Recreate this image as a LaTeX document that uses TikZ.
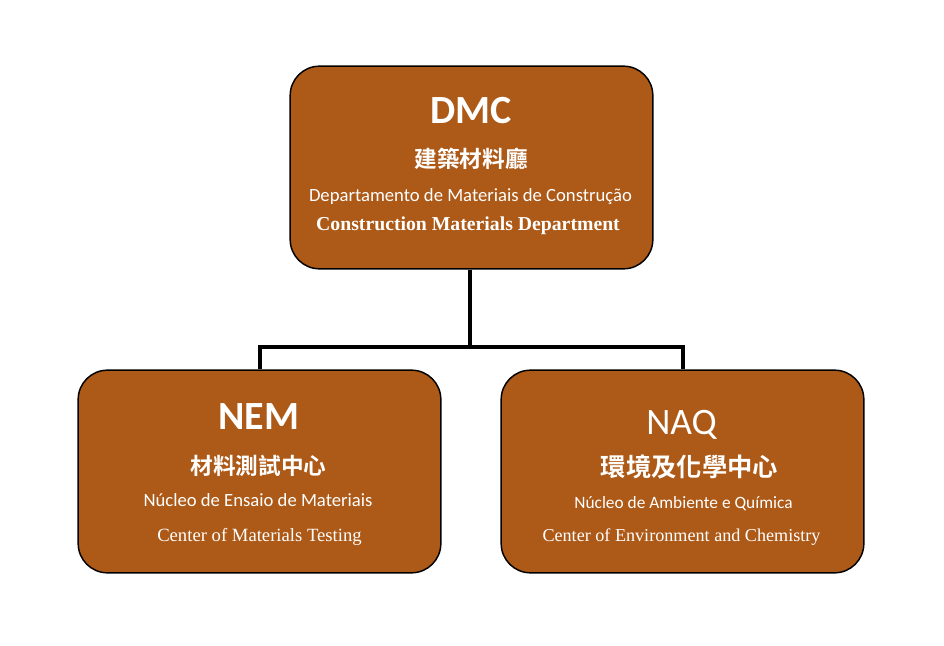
\documentclass[tikz,border=0pt]{standalone}
\usepackage{fontspec}
\setmainfont{Liberation Serif}
\setsansfont{Carlito}
\newfontfamily\cjk{Noto Sans CJK TC}[BoldFont={Noto Sans CJK TC Bold}]
\usetikzlibrary{positioning}
\definecolor{unitbrown}{RGB}{173,89,23}
\tikzset{
    unit/.style={
        draw=black,
        line width=1.1pt,
        fill=unitbrown,
        rounded corners=22pt,
        minimum width=272pt,
        minimum height=152pt
    },
    abbr/.style={
        anchor=base,
        text=white,
        font=\sffamily\bfseries\fontsize{30}{36}\selectfont
    },
    abbrlight/.style={
        anchor=base,
        text=white,
        font=\sffamily\fontsize{28}{34}\selectfont
    },
    zh/.style={
        anchor=base,
        text=white,
        font=\cjk\bfseries\fontsize{17}{20}\selectfont
    },
    pt/.style={
        anchor=base,
        text=white,
        font=\sffamily\fontsize{14}{17}\selectfont
    },
    en/.style={
        anchor=base,
        text=white,
        font=\rmfamily\fontsize{14}{17}\selectfont
    },
    link/.style={
        line width=3pt
    }
}

\begin{document}
\begin{tikzpicture}[x=0.75pt,y=-0.75pt]
\useasboundingbox (0,0) rectangle (944,645);

% the three units
\node[unit] (dmc) at (471.5,167.5) {};
\node[unit] (nem) at (259.5,471.5) {};
\node[unit] (naq) at (682.5,471.5) {};

% DMC
\node[abbr] (dmc-abbr) at (471,124) {DMC};
\node[zh] (dmc-zh) at (471,168) {建築材料廳};
\node[pt] (dmc-pt) at (470.5,201) {Departamento de Materiais de Construção};
\node[en,font=\rmfamily\bfseries\fontsize{14.8}{18}\selectfont] (dmc-en) at (468,230) {Construction Materials Department};

% NEM
\node[abbr] (nem-abbr) at (259,429) {NEM};
\node[zh] (nem-zh) at (258.5,474) {材料測試中心};
\node[pt] (nem-pt) at (258,506) {Núcleo de Ensaio de Materiais};
\node[en] (nem-en) at (259.5,541) {Center of Materials Testing};

% NAQ
\node[abbrlight] (naq-abbr) at (681.5,434) {NAQ};
\node[zh,font=\cjk\bfseries\fontsize{19}{22}\selectfont] (naq-zh) at (689.5,476) {環境及化學中心};
\node[pt,font=\sffamily\fontsize{13}{16}\selectfont] (naq-pt) at (683.5,508) {Núcleo de Ambiente e Química};
\node[en,font=\rmfamily\fontsize{13.6}{16}\selectfont] (naq-en) at (681.5,541) {Center of Environment and Chemistry};

% connectors
\coordinate (split) at (470,347);
\draw[link] (dmc.south -| split) -- (split);
\draw[link] (nem.north) |- (split) -| (naq.north);

\end{tikzpicture}
\end{document}
